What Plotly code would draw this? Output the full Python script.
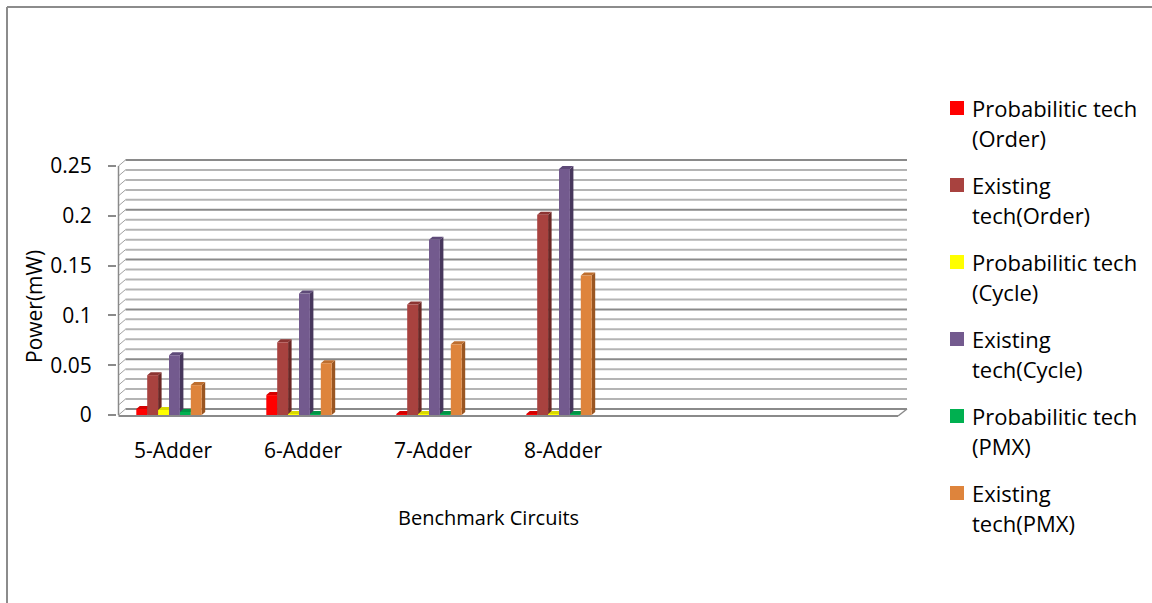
import plotly.graph_objects as go

# ---------------- data ----------------
categories = ["5-Adder", "6-Adder", "7-Adder", "8-Adder"]

series_names = [
    "Probabilitic tech<br>(Order)",
    "Existing<br>tech(Order)",
    "Probabilitic tech<br>(Cycle)",
    "Existing<br>tech(Cycle)",
    "Probabilitic tech<br>(PMX)",
    "Existing<br>tech(PMX)",
]
prob_order = [0.006, 0.020, 0.001, 0.001]
exist_order = [0.040, 0.073, 0.111, 0.201]
prob_cycle = [0.005, 0.001, 0.001, 0.001]
exist_cycle = [0.060, 0.122, 0.176, 0.247]
prob_pmx = [0.003, 0.001, 0.001, 0.001]
exist_pmx = [0.030, 0.052, 0.071, 0.140]

y_tick_vals = [0, 0.05, 0.1, 0.15, 0.2, 0.25]
y_tick_text = ["0", "0.05", "0.1", "0.15", "0.2", "0.25"]
grid_step = 0.01

series_values = [prob_order, exist_order, prob_cycle, exist_cycle, prob_pmx, exist_pmx]
front_colors = ["#FF0000", "#A8423F", "#FFFF00", "#735A8E", "#00B050", "#DE843C"]
side_colors = ["#B00000", "#6B2826", "#B3B300", "#47375C", "#007A37", "#9A5622"]
top_colors = ["#D40000", "#8C3432", "#D9D900", "#5E4A78", "#009444", "#BD6E2F"]

# ---------------- geometry (pixels -> axis units) ----------------
W, H = 1152, 603
PLOT_L, PLOT_R, PLOT_T, PLOT_B = 117, 910, 157, 418
CAT0_PX, PX_PER_CAT = 169.0, 130.0       # centre of first category, category pitch
Y0_PX, PX_PER_UNIT = 415.0, 249.0 / 0.25  # pixel row of value 0, pixels per unit


def ax_x(px):
    return (px - CAT0_PX) / PX_PER_CAT


def ax_y(py):
    return (Y0_PX - py) / PX_PER_UNIT


def paper_x(px):
    return (px - PLOT_L) / (PLOT_R - PLOT_L)


def paper_y(py):
    return (PLOT_B - py) / (PLOT_B - PLOT_T)


x_range = [ax_x(PLOT_L), ax_x(PLOT_R)]
y_range = [ax_y(PLOT_B), ax_y(PLOT_T)]

# 3-D wall and column depth
wall_dx, wall_dy = 7 / PX_PER_CAT, 6 / PX_PER_UNIT
bar_dx, bar_dy = 3.5 / PX_PER_CAT, 3 / PX_PER_UNIT
front_left = ax_x(118.5)
front_right = ax_x(898)
back_right = ax_x(907)

bar_pitch = 10.9 / PX_PER_CAT
group_start = -3 * bar_pitch

fig = go.Figure()

# side and top faces of every column (drawn below the front faces)
for k, vals in enumerate(series_values):
    off = group_start + k * bar_pitch
    sx, sy, tx, ty = [], [], [], []
    for i, v in enumerate(vals):
        x0 = i + off
        x1 = x0 + bar_pitch
        sx += [x1, x1 + bar_dx, x1 + bar_dx, x1, x1, None]
        sy += [0, bar_dy, v + bar_dy, v, 0, None]
        tx += [x0, x1, x1 + bar_dx, x0 + bar_dx, x0, None]
        ty += [v, v, v + bar_dy, v + bar_dy, v, None]
    fig.add_trace(go.Scatter(x=sx, y=sy, mode="lines", fill="toself",
                             fillcolor=side_colors[k], line=dict(width=0),
                             showlegend=False, hoverinfo="skip", zorder=0))
    fig.add_trace(go.Scatter(x=tx, y=ty, mode="lines", fill="toself",
                             fillcolor=top_colors[k], line=dict(width=0),
                             showlegend=False, hoverinfo="skip", zorder=0))

# front faces
for k, vals in enumerate(series_values):
    fig.add_trace(go.Bar(
        x=list(range(len(categories))), y=vals, name=series_names[k].replace("<br>", " "),
        offset=group_start + k * bar_pitch, width=bar_pitch,
        marker=dict(color=front_colors[k], line=dict(width=0)),
        showlegend=False, zorder=1,
    ))

# back wall gridlines, side wall diagonals, floor
shapes = []
n_grid = int(round(y_tick_vals[-1] / grid_step))
for j in range(n_grid + 1):
    v = j * grid_step
    major = j % 5 == 0
    col = "#8A8A8A" if major else "#B4B4B4"
    shapes.append(dict(type="line", xref="x", yref="y", layer="below",
                       x0=front_left + wall_dx, x1=back_right,
                       y0=v + wall_dy, y1=v + wall_dy,
                       line=dict(color=col, width=2)))
    shapes.append(dict(type="line", xref="x", yref="y", layer="below",
                       x0=front_left, x1=front_left + wall_dx,
                       y0=v, y1=v + wall_dy,
                       line=dict(color="#A0A0A0", width=1)))
# front axis edge
shapes.append(dict(type="line", xref="x", yref="y", layer="above",
                   x0=front_left, x1=front_left, y0=0, y1=y_tick_vals[-1],
                   line=dict(color="#8A8A8A", width=1.5)))
# floor front edge and right edge
shapes.append(dict(type="line", xref="x", yref="y", layer="above",
                   x0=front_left, x1=front_right, y0=-1 / PX_PER_UNIT, y1=-1 / PX_PER_UNIT,
                   line=dict(color="#8A8A8A", width=2)))
shapes.append(dict(type="line", xref="x", yref="y", layer="above",
                   x0=front_right, x1=back_right, y0=-1 / PX_PER_UNIT, y1=wall_dy,
                   line=dict(color="#8A8A8A", width=1.5)))
# chart frame (top and left edges)
shapes.append(dict(type="line", xref="paper", yref="paper",
                   x0=paper_x(7), x1=paper_x(W), y0=paper_y(7), y1=paper_y(7),
                   line=dict(color="#8C8C8C", width=2)))
shapes.append(dict(type="line", xref="paper", yref="paper",
                   x0=paper_x(7), x1=paper_x(7), y0=paper_y(7), y1=paper_y(H),
                   line=dict(color="#8C8C8C", width=2)))

FONT = "Open Sans"
annotations = [
    dict(text="Power(mW)", xref="paper", yref="paper", x=paper_x(34), y=paper_y(307),
         showarrow=False, textangle=-90, font=dict(size=21, color="#000", family=FONT),
         xanchor="center", yanchor="middle"),
    dict(text="Benchmark Circuits", xref="paper", yref="paper", x=paper_x(488), y=paper_y(517),
         showarrow=False, font=dict(size=20, color="#000", family=FONT),
         xanchor="center", yanchor="middle"),
]

# legend: colour key plus two text rows per series
LEG_SWATCH_X, LEG_TEXT_X, LEG_TOP, LEG_PITCH, LEG_LINE = 950, 970, 108, 77, 30
for k, name in enumerate(series_names):
    cy = LEG_TOP + k * LEG_PITCH
    shapes.append(dict(type="rect", xref="paper", yref="paper",
                       x0=paper_x(LEG_SWATCH_X), x1=paper_x(LEG_SWATCH_X + 14),
                       y0=paper_y(cy - 7), y1=paper_y(cy + 7),
                       fillcolor=front_colors[k], line=dict(width=0)))
    for r, line_text in enumerate(name.split("<br>")):
        annotations.append(dict(text=line_text, xref="paper", yref="paper",
                                x=paper_x(LEG_TEXT_X), y=paper_y(cy + r * LEG_LINE),
                                xanchor="left", yanchor="middle", showarrow=False,
                                font=dict(size=22, color="#000", family=FONT)))

fig.update_layout(
    width=W, height=H,
    margin=dict(l=PLOT_L, r=W - PLOT_R, t=PLOT_T, b=H - PLOT_B, pad=0),
    paper_bgcolor="white", plot_bgcolor="rgba(0,0,0,0)",
    barmode="overlay",
    font=dict(family=FONT, size=21, color="#000"),
    shapes=shapes, annotations=annotations,
    xaxis=dict(range=x_range, showgrid=False, zeroline=False, showline=False,
               tickmode="array", tickvals=list(range(len(categories))), ticktext=categories,
               ticks="", ticklabelstandoff=18, ticklabelshift=4, tickfont=dict(size=21)),
    yaxis=dict(range=y_range, showgrid=False, zeroline=False, showline=False,
               tickmode="array", tickvals=y_tick_vals, ticktext=y_tick_text,
               ticks="outside", ticklen=8, tickcolor="#8A8A8A", tickwidth=1.5,
               ticklabelstandoff=12, tickfont=dict(size=21)),
    showlegend=False,
)

fig.write_html("out.html")
